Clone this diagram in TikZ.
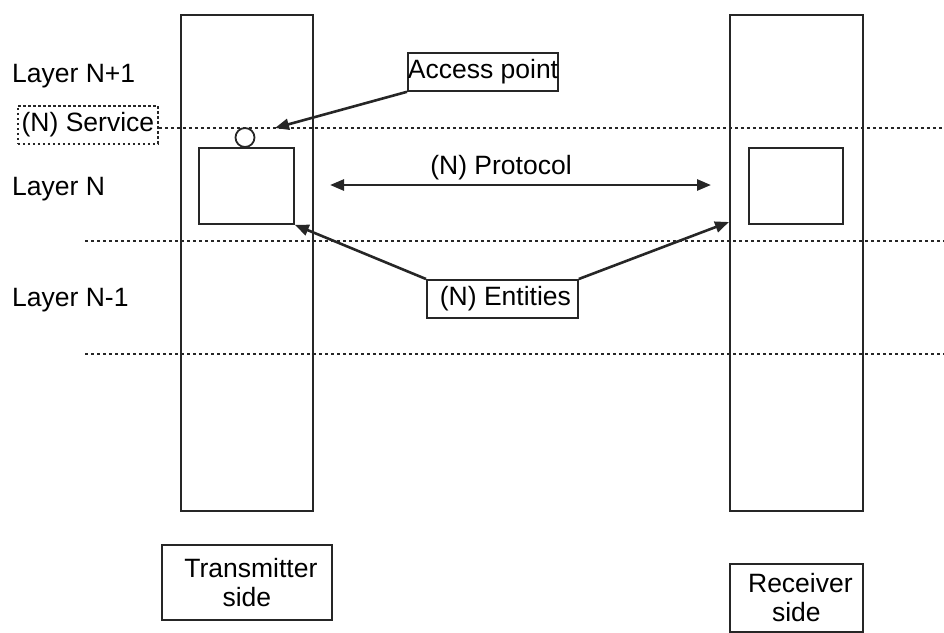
\documentclass[tikz,border=0pt]{standalone}
\usepackage{fontspec}
\setmainfont{Liberation Sans}
\usetikzlibrary{arrows.meta}
\begin{document}
\begin{tikzpicture}[x=1pt,y=-1pt,
  every node/.style={font=\fontsize{26.5}{29}\selectfont, text=black, inner sep=0pt},
  box/.style={draw=black!85, line width=1.8pt, anchor=north west, align=center},
  dotbox/.style={draw=black!85, line width=1.8pt, dash pattern=on 2.5pt off 2.5pt, anchor=north west},
  dotline/.style={draw=black!85, line width=1.8pt, dash pattern=on 3pt off 3pt},
  arr/.style={draw=black!85, line width=2.6pt, -{Triangle[length=14pt,width=11pt]}},
  darr/.style={draw=black!85, line width=2.6pt, {Triangle[length=14pt,width=11pt]}-{Triangle[length=14pt,width=11pt]}}]
\useasboundingbox (0,0) rectangle (944,632);
% tall columns
\node[box, minimum width=132pt, minimum height=496pt] (tx) at (180,14) {};
\node[box, minimum width=133pt, minimum height=496pt] (rx) at (729,14) {};
% entity boxes
\node[box, minimum width=95pt, minimum height=76pt] (le) at (198,147) {};
\node[box, minimum width=94pt, minimum height=76pt] (re) at (748,147) {};
% access point circle
\node[draw=black!85, line width=1.8pt, circle, minimum size=19pt] (ap) at (245,137.5) {};
% labels
\node[anchor=west] (l1) at (12,76) {Layer N+1};
\node[anchor=west] (l2) at (12,189) {Layer N};
\node[anchor=west] (l3) at (12,300) {Layer N-1};
\node[dotbox, minimum width=140pt, minimum height=38pt] (svc) at (17,105) {(N) Service};
\node[box, minimum width=145pt, minimum height=38pt] (acc) at (407,52) {Access point};
\node[box, minimum width=151pt, minimum height=38pt] (ent) at (426,279) {\hspace*{6pt}(N) Entities};
\node (prot) at (501,168) {(N) Protocol};
\node[box, minimum width=170pt, minimum height=75pt] (txs) at (161,544) {\hspace*{8pt}Transmitter\\side};
\node[box, minimum width=133pt, minimum height=68pt] (rxs) at (729,563) {\hspace*{8pt}Receiver\\side};
% dotted layer boundaries
\coordinate (svcEnd) at (944,128);
\coordinate (b1a) at (85,241);
\coordinate (b1b) at (944,241);
\coordinate (b2a) at (85,354);
\coordinate (b2b) at (944,354);
\draw[dotline] (svc.east |- svcEnd) -- (svcEnd);
\draw[dotline] (b1a) -- (b1b);
\draw[dotline] (b2a) -- (b2b);
% arrows
\coordinate (apTip) at (275,128);
\coordinate (pL) at (330,185);
\coordinate (pR) at (711,185);
\coordinate (rTip) at (729,222);
\draw[arr] (acc.south west) -- (apTip);
\draw[darr] (pL) -- (pR);
\draw[arr] (ent.north west) -- (le.south east);
\draw[arr] (ent.north east) -- (rTip);
\end{tikzpicture}
\end{document}
